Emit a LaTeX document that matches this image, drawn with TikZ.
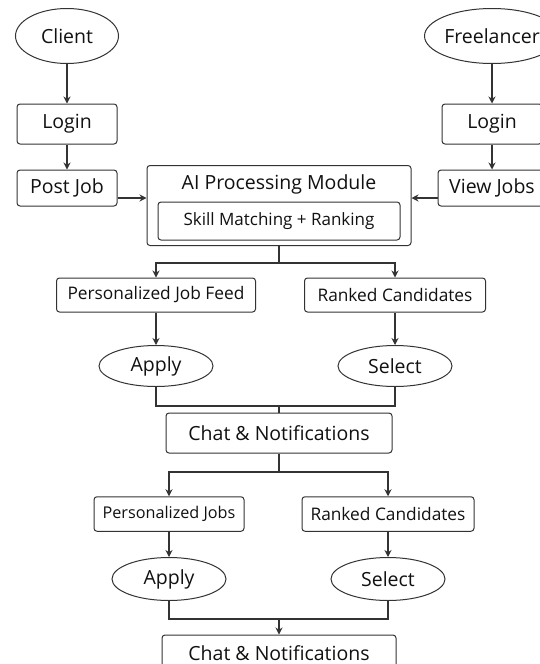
\documentclass[tikz,border=0pt]{standalone}
\usepackage{fontspec}
\setmainfont{Open Sans}
\usetikzlibrary{shapes.geometric,arrows.meta,calc}
\definecolor{ln}{HTML}{333333}
\definecolor{tx}{HTML}{111111}
\tikzset{
  box/.style={draw=ln, line width=1pt, rounded corners=3pt, fill=white, text=tx, inner sep=0pt, align=center},
  oval/.style={draw=ln, line width=1pt, ellipse, fill=white, text=tx, inner sep=0pt, align=center},
  lab/.style={text=tx, inner sep=0pt},
  link/.style={draw=ln, line width=1.2pt},
  arr/.style={link, -{Stealth[length=7pt,width=7pt]}},
  big/.style={font=\fontsize{19.5}{22}\selectfont},
  mid/.style={font=\fontsize{17.3}{20}\selectfont},
  mjs/.style={font=\fontsize{16.2}{19}\selectfont},
  sml/.style={font=\fontsize{17}{19}\selectfont}
}
\begin{document}
\begin{tikzpicture}[x=1pt,y=-1pt]
\useasboundingbox[fill=white] (0,0) rectangle (540,664);
% top row
\node[oval,big,minimum width=103pt,minimum height=55pt] (client) at (67,36) {Client};
\node[oval,big,minimum width=106pt,minimum height=55pt] (free) at (492,36) {Freelancer};
\node[box,big,minimum width=100pt,minimum height=40pt] (loginL) at (67,124) {Login};
\node[box,big,minimum width=100pt,minimum height=40pt] (loginR) at (492,124) {Login};
\node[box,big,minimum width=100pt,minimum height=36pt] (post) at (67,188) {Post Job};
\node[box,big,minimum width=108pt,minimum height=36pt] (view) at (492,188) {View Jobs};
% AI module
\node[box,minimum width=264pt,minimum height=80pt] (ai) at (279,205.5) {};
\node[lab,big] (aititle) at (279,184.5) {AI Processing Module};
\node[box,sml,minimum width=242pt,minimum height=38pt] (skill) at (279,221) {Skill Matching + Ranking};
% second level
\node[box,mid,minimum width=199pt,minimum height=34pt] (pjf) at (156,295) {Personalized Job Feed};
\node[box,mid,minimum width=181pt,minimum height=34pt] (rc) at (395,295) {Ranked Candidates};
\node[oval,big,minimum width=114pt,minimum height=41pt] (apply) at (156,366) {Apply};
\node[oval,big,minimum width=114pt,minimum height=41pt] (select) at (395,366) {Select};
\node[box,big,minimum width=226pt,minimum height=40pt] (chat1) at (279,433) {Chat \& Notifications};
% third level
\node[box,mjs,minimum width=150pt,minimum height=34.5pt] (pj) at (169,514) {Personalized Jobs};
\node[box,mid,minimum width=172pt,minimum height=34.5pt] (rc2) at (388,514) {Ranked Candidates};
\node[oval,big,minimum width=114pt,minimum height=43pt] (apply2) at (169,579) {Apply};
\node[oval,big,minimum width=114pt,minimum height=43pt] (select2) at (388,579) {Select};
\node[box,big,minimum width=234pt,minimum height=36pt] (chat2) at (279,653) {Chat \& Notifications};
% junction coordinates
\coordinate (s1) at (279,263);
\coordinate (m1) at (279,406);
\coordinate (s2) at (279,472);
\coordinate (m2) at (279,619);
% connectors
\draw[arr] (client) -- (loginL);
\draw[arr] (loginL) -- (post);
\draw[arr] (free) -- (loginR);
\draw[arr] (loginR) -- (view);
\draw[arr] ([yshift=-10pt]post.east) -- ([yshift=-10pt]post.east -| ai.west);
\draw[arr] ([yshift=-10pt]view.west) -- ([yshift=-10pt]view.west -| ai.east);
\draw[link] (ai.south) -- (s1);
\draw[arr] (s1) -| (pjf.north);
\draw[arr] (s1) -| (rc.north);
\draw[arr] (pjf) -- (apply);
\draw[arr] (rc) -- (select);
\draw[link] (apply.south) |- (m1) -| (select.south);
\draw[link] (m1) -- (chat1.north);
\draw[link] (chat1.south) -- (s2);
\draw[arr] (s2) -| (pj.north);
\draw[arr] (s2) -| (rc2.north);
\draw[arr] (pj) -- (apply2);
\draw[arr] (rc2) -- (select2);
\draw[link] (apply2.south) |- (m2) -| (select2.south);
\draw[arr] (m2) -- (chat2.north);
\end{tikzpicture}
\end{document}
